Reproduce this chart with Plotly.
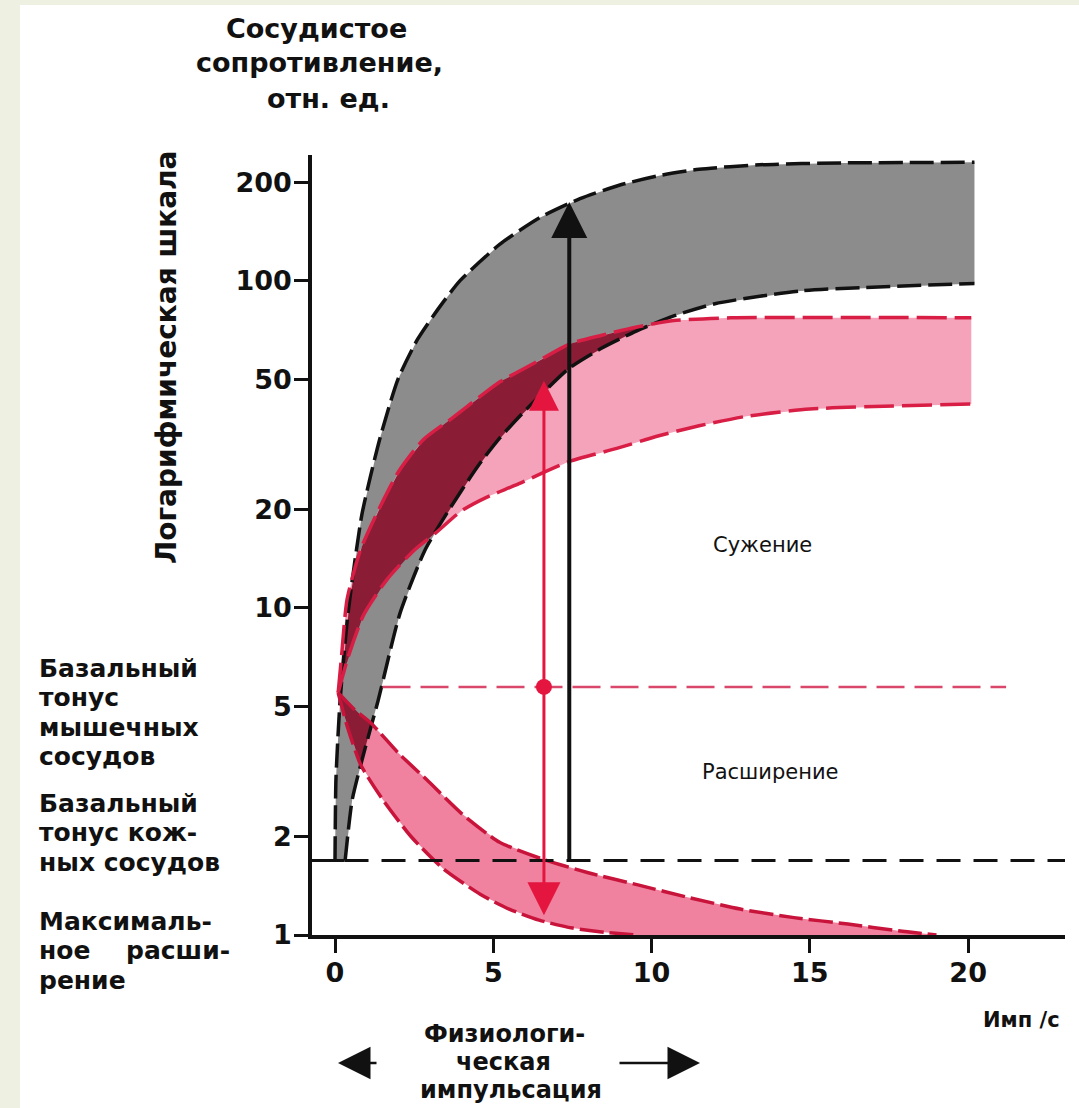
import numpy as np
import plotly.graph_objects as go

# ---------------- data ----------------
# skin vessels (grey band): vasoconstriction
gray_up_x = [0.0, 0.03, 0.16, 0.41, 0.85, 1.42, 1.99, 2.6, 3.3, 3.95, 5.2, 6.48, 7.74, 9.0, 10.3, 11.5, 13.4, 16.0, 20.2]
gray_up_y = [1.69, 3.0, 5.2, 9.6, 19.3, 33.0, 50.0, 66.0, 83.0, 100.0, 129.0, 156.0, 178.0, 196.0, 210.0, 219.0, 226.0, 229.0, 230.0]
gray_lo_x = [0.0, 0.32, 0.54, 0.85, 1.36, 2.05, 2.84, 3.54, 4.5, 5.2, 6.0, 7.4, 8.4, 9.5, 10.7, 12.0, 14.7, 20.2]
gray_lo_y = [1.69, 1.69, 2.58, 3.42, 5.2, 9.6, 15.0, 19.5, 27.0, 33.0, 40.0, 54.0, 62.0, 70.0, 78.0, 85.0, 93.0, 98.0]

# muscle vessels (pink band): vasoconstriction
red_up_x = [0.1, 0.2, 0.38, 0.8, 1.33, 2.0, 2.78, 3.7, 4.68, 5.2, 6.3, 7.4, 8.4, 9.5, 10.7, 12.5, 20.1]
red_up_y = [5.5, 7.0, 10.6, 15.0, 19.5, 26.0, 32.6, 38.0, 45.0, 49.0, 56.0, 64.0, 68.0, 72.0, 75.5, 77.0, 77.0]
red_lo_x = [0.1, 0.4, 0.9, 1.64, 2.5, 3.2, 4.0, 4.8, 5.7, 7.4, 8.9, 10.2, 11.5, 13.0, 15.0, 20.1]
red_lo_y = [5.5, 7.0, 9.5, 12.2, 15.0, 17.0, 19.8, 21.8, 23.7, 28.0, 30.7, 33.5, 36.0, 38.5, 40.5, 42.0]

# muscle vessels: dilatation band
dil_up_x = [0.1, 0.6, 1.14, 2.0, 2.9, 4.0, 5.2, 6.6, 8.0, 9.6, 11.2, 12.8, 14.5, 16.2, 17.8, 19.0]
dil_up_y = [5.5, 4.9, 4.44, 3.6, 2.98, 2.35, 1.92, 1.7, 1.55, 1.42, 1.3, 1.2, 1.13, 1.08, 1.03, 1.0]
dil_lo_x = [0.1, 0.4, 0.82, 1.5, 2.4, 3.4, 4.6, 5.5, 6.45, 7.5, 8.5, 9.5, 19.0]
dil_lo_y = [5.5, 4.3, 3.3, 2.6, 2.0, 1.6, 1.33, 1.2, 1.11, 1.05, 1.02, 1.0, 1.0]

skin_basal = 1.69
muscle_basal = 5.73
muscle_basal_x = [1.5, 21.2]
skin_basal_x = [0.3, 23.06]
black_arrow_x = 7.4
black_arrow_top = 174
red_arrow_x = 6.6
red_arrow_top = 50
red_arrow_bottom = 1.15

x_ticks = [0, 5, 10, 15, 20]
y_ticks = [1, 2, 5, 10, 20, 50, 100, 200]
y_tick_text = ["1", "2", "5", "10", "20", "50", "100", "200"]

# ---------------- helpers ----------------
def polygon(xu, yu, xl, yl):
    return list(xu) + list(xl)[::-1], list(yu) + list(yl)[::-1]


def overlap(aup, alo, bup, blo):
    curves = [aup, alo, bup, blo]
    x0 = max(c[0][0] for c in curves)
    x1 = min(c[0][-1] for c in curves)
    pts = np.concatenate([np.asarray(c[0], float) for c in curves])
    grid = np.union1d(np.linspace(x0, x1, 800), pts[(pts >= x0) & (pts <= x1)])
    f = lambda c: np.interp(grid, c[0], np.log10(c[1]))
    hi = np.minimum(f(aup), f(bup))
    lo = np.maximum(f(alo), f(blo))
    m = hi > lo
    gx = grid[m]
    return np.r_[gx, gx[::-1]], 10 ** np.r_[hi[m], lo[m][::-1]]


GRAY = "#8c8c8c"
PINK = "#f4a3ba"
PINK2 = "#f0819f"
DARK = "#8a1d35"
RED = "#d81e45"
BLACK = "#111111"

fig = go.Figure()

def fill(x, y, color):
    fig.add_trace(go.Scatter(x=x, y=y, mode="lines", fill="toself", fillcolor=color,
                             line=dict(width=0, color=color), hoverinfo="skip", showlegend=False))

def line(x, y, color, width, dash, shape="spline"):
    fig.add_trace(go.Scatter(x=x, y=y, mode="lines",
                             line=dict(color=color, width=width, dash=dash, shape=shape, smoothing=0.6),
                             hoverinfo="skip", showlegend=False))

gray = ((gray_up_x, gray_up_y), (gray_lo_x, gray_lo_y))
red = ((red_up_x, red_up_y), (red_lo_x, red_lo_y))
dil = ((dil_up_x, dil_up_y), (dil_lo_x, dil_lo_y))

fill(*polygon(gray_up_x, gray_up_y, gray_lo_x, gray_lo_y), GRAY)
fill(*polygon(red_up_x, red_up_y, red_lo_x, red_lo_y), PINK)
fill(*polygon(dil_up_x, dil_up_y, dil_lo_x, dil_lo_y), PINK2)
fill(*overlap(gray[0], gray[1], red[0], red[1]), DARK)
fill(*overlap(gray[0], gray[1], dil[0], dil[1]), DARK)

# band edges
line(gray_up_x, gray_up_y, BLACK, 3.5, "24px,7px")
line(gray_lo_x[1:], gray_lo_y[1:], BLACK, 3.5, "24px,7px")
line(red_up_x, red_up_y, RED, 3.5, "30px,8px")
line(red_lo_x, red_lo_y, RED, 3.5, "30px,8px")
line(dil_up_x, dil_up_y, "#c8143a", 3.5, "24px,6px")
line(dil_lo_x[:12], dil_lo_y[:12], "#c8143a", 3.5, "24px,6px")

# basal tone lines
line([-0.73, skin_basal_x[0]], [skin_basal, skin_basal], BLACK, 3, "solid", "linear")
line(skin_basal_x, [skin_basal, skin_basal], BLACK, 3, "24px,13px", "linear")
line(muscle_basal_x, [muscle_basal, muscle_basal], "#d9486a", 2.5, "28px,10px", "linear")

fig.add_trace(go.Scatter(x=[red_arrow_x], y=[muscle_basal], mode="markers",
                         marker=dict(size=16, color="#e4163f"), hoverinfo="skip", showlegend=False))

# vertical arrows
fig.add_annotation(x=black_arrow_x, y=np.log10(black_arrow_top), ax=black_arrow_x, ay=np.log10(skin_basal),
                   xref="x", yref="y", axref="x", ayref="y", text="", showarrow=True,
                   arrowhead=2, arrowsize=1.8, arrowwidth=4, arrowcolor=BLACK)
fig.add_annotation(x=red_arrow_x, y=np.log10(red_arrow_bottom), ax=red_arrow_x, ay=np.log10(red_arrow_top),
                   xref="x", yref="y", axref="x", ayref="y", text="", showarrow=True,
                   arrowhead=2, startarrowhead=2, arrowside="end+start", arrowsize=2.2, startarrowsize=2.0,
                   arrowwidth=3, arrowcolor="#e4163f")

# ---------------- layout / texts ----------------
L, R, T, B = 312, 1065, 155, 935
def px(v):
    return (v - L) / (R - L)
def py(v):
    return (B - v) / (B - T)

FONT = "DejaVu Sans"

def text(s, x, y, size, anchor="center", bold=True, angle=0):
    fig.add_annotation(text=s, x=px(x), y=py(y), xref="paper", yref="paper", showarrow=False,
                       xanchor=anchor, yanchor="middle", textangle=angle,
                       font=dict(family=FONT, size=size, color="#111111",
                                 weight="bold" if bold else "normal"))

text("Сосудистое", 316, 29, 27)
text("сопротивление,", 319, 63, 27)
text("отн. ед.", 328, 98, 27)
text("Логарифмическая шкала", 166, 358, 28, angle=-90)

text("Сужение", 762, 545, 21, bold=False)
text("Расширение", 770, 772, 21, bold=False)

left = [("Базальный", 668), ("тонус", 697.5), ("мышечных", 727), ("сосудов", 756.5),
        ("Базальный", 803), ("тонус кож-", 832.5), ("ных сосудов", 862),
        ("Максималь-", 921), ("ное", 950.5), ("рение", 980)]
for s, yy in left:
    text(s, 37, yy, 25, anchor="left")
text("расши-", 232, 950.5, 25, anchor="right")

text("Имп /с", 1062, 1020, 21, anchor="right")
text("Физиологи-", 504, 1034, 24)
text("ческая", 503, 1062, 24)
text("импульсация", 511, 1090, 24)

# bottom direction arrows
fig.add_annotation(x=px(338), y=py(1063), xref="paper", yref="paper", ax=40, ay=0, text="",
                   showarrow=True, arrowhead=2, arrowsize=2.6, arrowwidth=2.5, arrowcolor=BLACK)
fig.add_annotation(x=px(700), y=py(1063), xref="paper", yref="paper", ax=-82, ay=0, text="",
                   showarrow=True, arrowhead=2, arrowsize=2.6, arrowwidth=2.5, arrowcolor=BLACK)

# page frame (light green border)
fig.add_shape(type="rect", xref="paper", yref="paper", x0=px(20), x1=px(1090), y0=py(5), y1=py(1120),
              fillcolor="white", line=dict(width=0), layer="below")

fig.update_layout(
    width=1079, height=1108,
    margin=dict(l=L, r=1079 - R, t=T, b=1108 - B),
    paper_bgcolor="#eef1e1", plot_bgcolor="rgba(0,0,0,0)",
    showlegend=False,
    xaxis=dict(range=[-0.727, 23.06], showline=True, linecolor=BLACK, linewidth=3.5,
               ticks="outside", ticklen=14, tickwidth=3, tickcolor=BLACK,
               tickvals=x_ticks, showgrid=False, zeroline=False, ticklabelstandoff=-3,
               tickfont=dict(family=FONT, size=27, color="#111111", weight="bold")),
    yaxis=dict(type="log", range=[0, 2.384], showline=True, linecolor=BLACK, linewidth=3.5,
               ticks="outside", ticklen=14, tickwidth=3, tickcolor=BLACK,
               tickvals=y_ticks, ticktext=y_tick_text, showgrid=False, zeroline=False,
               ticklabelstandoff=-3,
               tickfont=dict(family=FONT, size=27, color="#111111", weight="bold")),
)

fig.write_html("out.html", config={"displayModeBar": False},
               post_script="document.body.style.margin='0px';document.body.style.background='#eef1e1';")
